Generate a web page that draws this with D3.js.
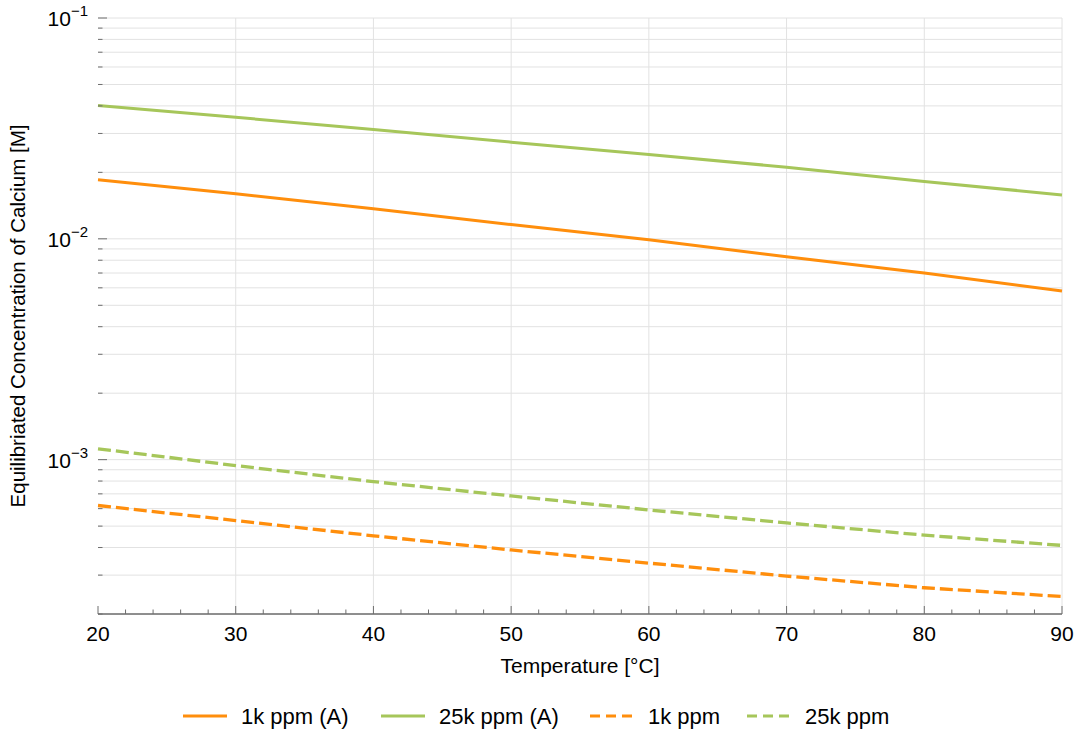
<!DOCTYPE html>
<html>
<head>
<meta charset="utf-8">
<script src="https://cdn.jsdelivr.net/npm/d3@7"></script>
<style>
  body { margin: 0; background: #fff; }
  svg { font-family: "Liberation Sans", Arial, sans-serif; }
</style>
</head>
<body>
<div id="chart"></div>
<script>
// temperatures (°C)
const temps = [20, 30, 40, 50, 60, 70, 80, 90];

// equilibrated Ca concentration [M]
const ppm1kA  = [0.0185, 0.0160, 0.0137, 0.0116, 0.0099, 0.0083, 0.0070, 0.0058];
const ppm25kA = [0.0402, 0.0355, 0.0313, 0.0274, 0.0241, 0.0211, 0.0182, 0.0158];
const ppm1k   = [6.2e-4, 5.3e-4, 4.52e-4, 3.9e-4, 3.4e-4, 2.97e-4, 2.63e-4, 2.40e-4];
const ppm25k  = [1.12e-3, 9.4e-4, 7.95e-4, 6.85e-4, 5.92e-4, 5.17e-4, 4.55e-4, 4.09e-4];

const seriesNames = ["1k ppm (A)", "25k ppm (A)", "1k ppm", "25k ppm"];
const xTicks = [20, 30, 40, 50, 60, 70, 80, 90];
const yDecades = [-1, -2, -3];

const ORANGE = "#ff8e0c", GREEN = "#a6c65a";
const series = [
  { name: seriesNames[0], values: ppm1kA, color: ORANGE, dash: null },
  { name: seriesNames[1], values: ppm25kA, color: GREEN, dash: null },
  { name: seriesNames[2], values: ppm1k, color: ORANGE, dash: "13,5" },
  { name: seriesNames[3], values: ppm25k, color: GREEN, dash: "13,5" }
];

const W = 1081, H = 731;
const m = { left: 98, right: 19, top: 18, bottom: 117 };

const svg = d3.select("#chart").append("svg").attr("width", W).attr("height", H);

const x = d3.scaleLinear().domain([20, 90]).range([m.left, W - m.right]);
const y = d3.scaleLog().domain([2e-4, 1e-1]).range([H - m.bottom, m.top]);

const gridC = "#e2e2e2", axisC = "#6e6e6e";

// minor log positions
const yMinor = [];
for (let e = -4; e <= -2; e++) {
  for (let k = 1; k <= 9; k++) {
    const v = k * Math.pow(10, e);
    if (v >= 2e-4 - 1e-12 && v <= 1e-1 + 1e-12) yMinor.push(v);
  }
}
yMinor.push(1e-1);

// grid
svg.append("g").selectAll("line").data(yMinor).join("line")
  .attr("x1", m.left).attr("x2", W - m.right)
  .attr("y1", d => y(d)).attr("y2", d => y(d))
  .attr("stroke", gridC).attr("stroke-width", 1);
svg.append("g").selectAll("line").data(xTicks.slice(1)).join("line")
  .attr("x1", d => x(d)).attr("x2", d => x(d))
  .attr("y1", m.top).attr("y2", H - m.bottom)
  .attr("stroke", gridC).attr("stroke-width", 1);

// lines
const line = d3.line().x((d, i) => x(temps[i])).y(d => y(d));
svg.append("g").selectAll("path").data(series).join("path")
  .attr("d", d => line(d.values))
  .attr("fill", "none")
  .attr("stroke", d => d.color)
  .attr("stroke-width", d => d.dash ? 3.3 : 3)
  .attr("stroke-dasharray", d => d.dash);

// x axis
const xMinor = d3.range(20, 90.01, 2);
const gx = svg.append("g");
gx.append("line").attr("x1", m.left).attr("x2", W - m.right)
  .attr("y1", y(2e-4)).attr("y2", y(2e-4)).attr("stroke", axisC).attr("stroke-width", 1.5);
gx.selectAll("line.minor").data(xMinor).join("line").attr("class", "minor")
  .attr("x1", d => x(d)).attr("x2", d => x(d))
  .attr("y1", y(2e-4)).attr("y2", d => y(2e-4) - (d % 10 === 0 ? 8 : 4.5))
  .attr("stroke", axisC).attr("stroke-width", 1);
gx.selectAll("text").data(xTicks).join("text")
  .attr("x", d => x(d)).attr("y", y(2e-4) + 27)
  .attr("text-anchor", "middle").attr("font-size", 21).attr("fill", "#000")
  .text(d => d);

// y axis
const gy = svg.append("g");
gy.append("line").attr("x1", m.left).attr("x2", m.left)
  .attr("y1", m.top).attr("y2", H - m.bottom).attr("stroke", axisC).attr("stroke-width", 1.5);
gy.selectAll("line").data(yMinor).join("line")
  .attr("x1", m.left).attr("x2", d => {
    const isMajor = Math.abs(Math.log10(d) - Math.round(Math.log10(d))) < 1e-9;
    return m.left + (isMajor ? 9 : 4.5);
  })
  .attr("y1", d => y(d)).attr("y2", d => y(d))
  .attr("stroke", axisC).attr("stroke-width", 1);
const yl = gy.selectAll("text").data(yDecades).join("text")
  .attr("x", m.left - 10).attr("y", d => y(Math.pow(10, d)) + 8)
  .attr("text-anchor", "end").attr("font-size", 21).attr("fill", "#000");
yl.append("tspan").text("10");
yl.append("tspan").attr("dy", -10).attr("font-size", 15).text(d => "\u2212" + Math.abs(d));

// axis titles
svg.append("text").attr("x", (m.left + W - m.right) / 2).attr("y", 673)
  .attr("text-anchor", "middle").attr("font-size", 21).text("Temperature [°C]");
svg.append("text")
  .attr("transform", `translate(25,${(m.top + H - m.bottom) / 2}) rotate(-90)`)
  .attr("text-anchor", "middle").attr("font-size", 20.5)
  .text("Equilibriated Concentration of Calcium [M]");

// legend
const legX = [183, 381, 590, 747];
const lg = svg.append("g").selectAll("g").data(series).join("g")
  .attr("transform", (d, i) => `translate(${legX[i]},716)`);
lg.append("line").attr("x1", 0).attr("x2", 44).attr("y1", 0).attr("y2", 0)
  .attr("stroke", d => d.color).attr("stroke-width", 3)
  .attr("stroke-dasharray", d => d.dash ? "10,6" : null);
lg.append("text").attr("x", 58).attr("y", 8).attr("font-size", 22).text(d => d.name);
</script>
</body>
</html>
